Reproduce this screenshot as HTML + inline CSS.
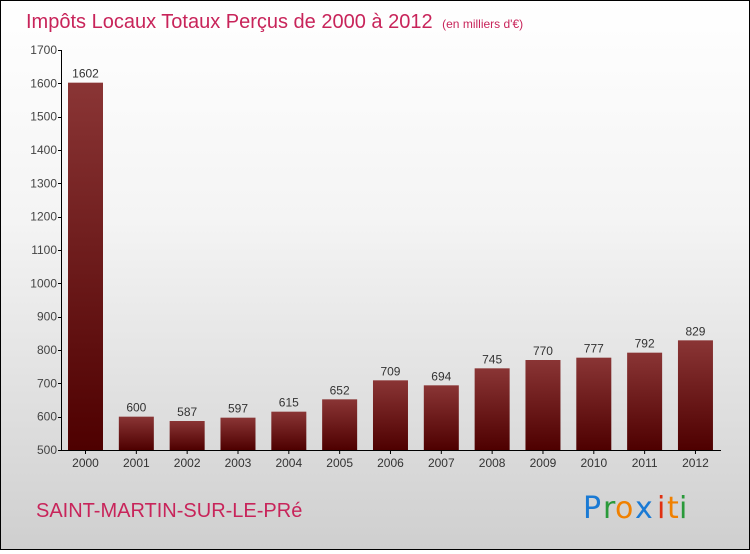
<!DOCTYPE html>
<html><head><meta charset="utf-8"><style>
html,body{margin:0;padding:0}
body{width:750px;height:550px;overflow:hidden;font-family:"Liberation Sans",sans-serif}
#wrap{position:relative;width:748px;height:548px;border:1px solid #000;background:linear-gradient(#ffffff,#f4f4f4 40%,#cfcfcf)}
</style></head><body>
<div id="wrap">
<svg id="chart" width="748" height="548">
<defs><linearGradient id="bg" x1="0" y1="0" x2="0" y2="1"><stop offset="0" stop-color="#8a3535"/><stop offset="1" stop-color="#4e0000"/></linearGradient></defs>
<text x="25" y="27" font-size="20" fill="#c8245a">Impôts Locaux Totaux Perçus de 2000 à 2012 <tspan font-size="12" dx="4">(en milliers d'€)</tspan></text>
<text x="35" y="516" font-size="20" fill="#c8245a">SAINT-MARTIN-SUR-LE-PRé</text>
<g font-size="30" font-family="'DejaVu Sans',sans-serif">
<text x="582" y="517" fill="#1a7ad4">P</text><text x="602" y="517" fill="#2a9a3a">r</text><text x="614" y="517" fill="#f08000">o</text><text x="634" y="517" fill="#1a7ad4">x</text><text x="656" y="517" fill="#e03010">i</text><text x="666" y="517" fill="#f08000">t</text><text x="678" y="517" fill="#2a9a3a">i</text>
</g>
<g id="axes"></g><g id="bars"></g>
</svg></div>
<script>
const years=["2000","2001","2002","2003","2004","2005","2006","2007","2008","2009","2010","2011","2012"];
const values=[1602,600,587,597,615,652,709,694,745,770,777,792,829];
const yTicks=[500,600,700,800,900,1000,1100,1200,1300,1400,1500,1600,1700];
const NS="http://www.w3.org/2000/svg";
const vMin=500,vMax=1700,plotTop=49,plotBot=449;
function y(v){return plotBot-(v-vMin)/(vMax-vMin)*(plotBot-plotTop);}
function x(i){return 67+i*50.83;}
const bw=35;
function mk(t,a,p){const e=document.createElementNS(NS,t);for(const k in a)e.setAttribute(k,a[k]);p.appendChild(e);return e;}
const ax=document.getElementById('axes'),bs=document.getElementById('bars');
const al=mk('line',{x1:60.5,y1:plotTop,x2:60.5,y2:plotBot,stroke:'#000'},ax);


const bl=mk('line',{x1:60,y1:plotBot+0.5,x2:720,y2:plotBot+0.5,stroke:'#000'},ax);


yTicks.forEach(t=>{
 const tk=mk('line',{x1:57,x2:61,y1:Math.round(y(t))+0.5,y2:Math.round(y(t))+0.5,stroke:'#000'},ax);
 
 
 const l=mk('text',{x:56,y:y(t)+4,'text-anchor':'end','font-size':12,fill:'#444'},ax);l.textContent=t;
 
 
});
values.forEach((v,i)=>{
 const r=mk('rect',{x:x(i),y:y(v),width:bw,height:plotBot-y(v),fill:'url(#bg)'},bs);
 
 
 const t=mk('text',{x:x(i)+bw/2,y:y(v)-5,'text-anchor':'middle','font-size':12,fill:'#333'},bs);t.textContent=v;
 
 
 const tk=mk('line',{x1:x(i)+bw/2,x2:x(i)+bw/2,y1:plotBot,y2:plotBot+4,stroke:'#000'},ax);
 
 
 const c=mk('text',{x:x(i)+bw/2,y:plotBot+17,'text-anchor':'middle','font-size':12,fill:'#333'},ax);c.textContent=years[i];
 
 
});
</script>
</body></html>
